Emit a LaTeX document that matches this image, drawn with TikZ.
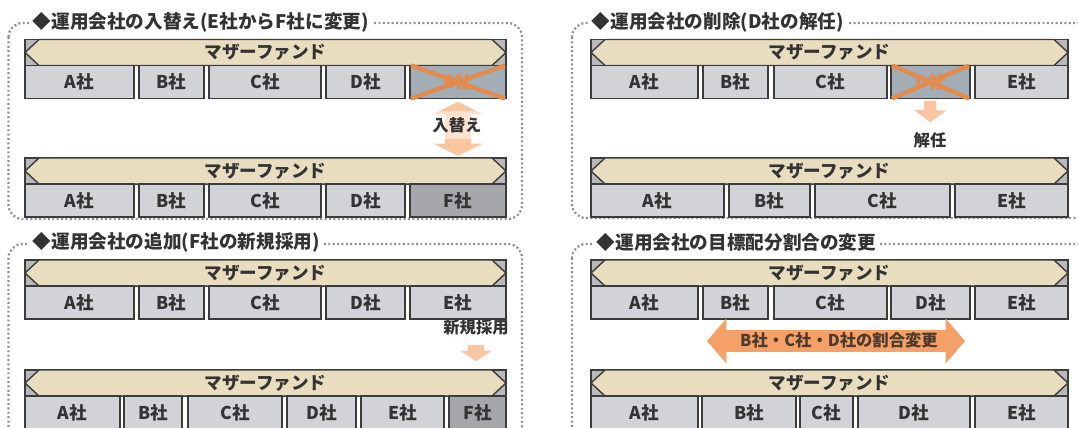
\documentclass[tikz,border=0pt]{standalone}
\usepackage{fontspec}
\setmainfont{Noto Sans CJK JP}
\usetikzlibrary{arrows.meta,positioning}

\definecolor{waku}{HTML}{8E8E98}
\definecolor{sen}{HTML}{3C3C3C}
\definecolor{hako}{HTML}{D2D3D7}
\definecolor{hakodark}{HTML}{A6A7AA}
\definecolor{hakoblue}{HTML}{A3ADB6}
\definecolor{beige}{HTML}{E8DEBF}
\definecolor{bargray}{HTML}{B9B9BB}
\definecolor{peach}{HTML}{F9C6A0}
\definecolor{daidai}{HTML}{F4A066}
\definecolor{batsu}{HTML}{E38A4E}
\definecolor{moji}{HTML}{333333}
\definecolor{chamoji}{HTML}{4B3A2E}

\tikzset{
  panel/.style={draw=waku, line width=1.3pt, dash pattern=on 1.1pt off 1.4pt, rounded corners=8pt},
  paneltitle/.style={fill=white, anchor=west, inner xsep=2pt, inner ysep=1pt, text=moji,
    font=\fontsize{10.6}{13}\selectfont\bfseries},
  barframe/.style={draw=sen, fill=bargray, line width=0.8pt},
  mfbar/.style={draw=sen, fill=beige, line width=0.8pt, line join=round},
  mftext/.style={text=moji, font=\fontsize{10}{12}\selectfont\bfseries},
  kaisha/.style={draw=sen, line width=0.8pt, inner sep=0pt, minimum height=0.66cm,
    font=\fontsize{10}{12}\selectfont\bfseries},
  note/.style={text=moji, font=\fontsize{9.3}{11}\selectfont\bfseries},
  batsusen/.style={draw=batsu, line width=2.5pt, shorten <=1pt, shorten >=1pt},
}

% one mother fund row: name, left, right, top, boxes
\newcommand{\fundrow}[5]{%
  \draw[barframe] (#2,#4) rectangle (#3,#4+26);
  \draw[mfbar] (#2,#4+13) -- (#2+14,#4) -- (#3-14,#4) -- (#3,#4+13)
    -- (#3-14,#4+26) -- (#2+14,#4+26) -- cycle;
  \coordinate (#1-top) at ({(#2+#3)/2},#4);
  \node[mftext] (#1-mf) at ({(#2+#3)/2},#4+13) {マザーファンド};
  \foreach \xa/\xb/\lab/\iro/\mc in {#5}{
    \node[kaisha, fill=\iro, text=\mc, minimum width={(\xb-\xa)*0.02cm}]
      (#1-\lab) at ({(\xa+\xb)/2},#4+42.5) {{\lab}社};
  }
}

\begin{document}
\begin{tikzpicture}[x=0.02cm, y=-0.02cm]
    \useasboundingbox (0,0) rectangle (1078,427);
    \clip (0,0) rectangle (1078,427);

    % dotted panels
    \draw[panel] (8.5,23) rectangle (522,219);
    \draw[panel] (572,23) rectangle (1095,218);
    \draw[panel] (8.5,244) rectangle (522,450);
    \draw[panel] (572,244) rectangle (1095,450);
    \node[paneltitle] (t-ire) at (29,22) {◆運用会社の入替え(E社からF社に変更)};
    \node[paneltitle] (t-kai) at (588,22) {◆運用会社の削除(D社の解任)};
    \node[paneltitle] (t-tsu) at (29,242) {◆運用会社の追加(F社の新規採用)};
    \node[paneltitle] (t-hen) at (593,242) {◆運用会社の目標配分割合の変更};

    % rows
    \fundrow{ireA}{25}{506}{39.5}{25/134/A/hako/moji, 139/204/B/hako/moji, 209/321/C/hako/moji,
        326/405/D/hako/moji, 410/506/E/hakoblue/batsu}
    \fundrow{ireB}{25}{506}{158}{25/134/A/hako/moji, 139/204/B/hako/moji, 209/321/C/hako/moji,
        326/405/D/hako/moji, 410/506/F/hakodark/moji}
    \fundrow{kaiA}{591}{1068}{39.5}{591/698/A/hako/moji, 703/768/B/hako/moji, 774/887/C/hako/moji,
        891/970/D/hakoblue/batsu, 975/1068/E/hako/moji}
    \fundrow{kaiB}{591}{1068}{158}{591/724/A/hako/moji, 729/810/B/hako/moji, 815/950/C/hako/moji,
        955/1068/E/hako/moji}
    \fundrow{tsuA}{25}{506}{260}{25/134/A/hako/moji, 139/204/B/hako/moji, 209/321/C/hako/moji,
        326/405/D/hako/moji, 410/506/E/hako/moji}
    \fundrow{tsuB}{25}{506}{370}{25/120/A/hako/moji, 124/182/B/hako/moji, 188/282/C/hako/moji,
        287/356/D/hako/moji, 361/444/E/hako/moji, 449/506/F/hakodark/moji}
    \fundrow{henA}{591}{1068}{260}{591/698/A/hako/moji, 703/768/B/hako/moji, 774/887/C/hako/moji,
        891/970/D/hako/moji, 975/1068/E/hako/moji}
    \fundrow{henB}{591}{1068}{370}{591/698/A/hako/moji, 702/796/B/hako/moji, 800/853/C/hako/moji,
        858/970/D/hako/moji, 975/1068/E/hako/moji}

    % crossed out
    \draw[batsusen] (ireA-E.north west) -- (ireA-E.south east);
    \draw[batsusen] (ireA-E.south west) -- (ireA-E.north east);
    \draw[batsusen] (kaiA-D.north west) -- (kaiA-D.south east);
    \draw[batsusen] (kaiA-D.south west) -- (kaiA-D.north east);

    % arrows
    \draw[peach, line width=15pt, {Triangle[width=28pt,length=7pt]}-{Triangle[width=28pt,length=7pt]},
        shorten <=1.5pt, shorten >=1.2pt] (ireA-E.south) -- (ireA-E.south |- ireB-top);
    \node[note, fill=white, fill opacity=0.5, text opacity=1] (irekae) at (457,125) {入替え};

    \node[note] (kainin) at (930,140) {解任};
    \draw[peach, line width=7pt, -{Triangle[width=18pt,length=7pt]},
        shorten <=1pt, shorten >=2pt] (kaiA-D) -- (kainin);

    \node[note] (shinki) at (476,327) {新規採用};
    \draw[peach, line width=9pt, -{Triangle[width=18pt,length=6pt]},
        shorten <=2.5pt, shorten >=5pt] (shinki) -- (shinki |- tsuB-top);

    \coordinate (henL) at (707,341);
    \coordinate (henR) at (965,341);
    \draw[daidai, line width=12.5pt, {Triangle[width=25pt,length=11pt]}-{Triangle[width=25pt,length=11pt]}]
        (henL) -- (henR);
    \node[note, text=chamoji] (henko) at (839,340) {B社・C社・D社の割合変更};
\end{tikzpicture}
\end{document}
